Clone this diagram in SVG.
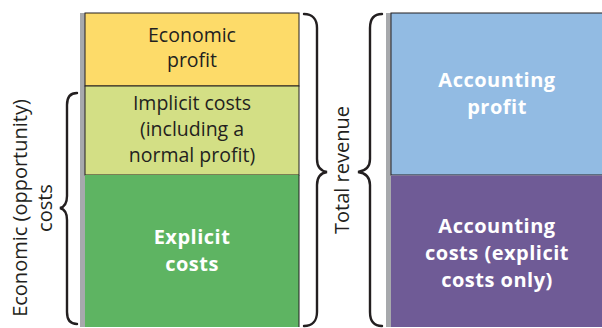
<svg xmlns="http://www.w3.org/2000/svg" width="602" height="328" viewBox="0 0 602 328">
<style>
.lbl{font-family:"Open Sans","Liberation Sans",sans-serif;font-size:19.5px;fill:#231f20;text-anchor:middle}
.blbl{font-family:"Open Sans","Liberation Sans",sans-serif;font-size:20px;font-weight:bold;fill:#ffffff;text-anchor:middle;letter-spacing:0.5px}
.side{font-family:"Open Sans","Liberation Sans",sans-serif;font-size:20px;fill:#231f20;text-anchor:middle}
.box{stroke:#231f20;stroke-width:1}
.bar{fill:#a7a9ac}
.brace{fill:none;stroke:#231f20;stroke-width:2.4;stroke-linecap:round}
</style>
<rect width="602" height="328" fill="#ffffff"/>
<rect class="bar" x="80" y="13" width="5" height="314"/>
<rect class="bar" x="386" y="13" width="5" height="314"/>
<g id="economic-profit">
<rect class="box" x="85" y="13" width="214" height="73" fill="#fddb69"/>
<text class="lbl" x="192" y="42">Economic</text>
<text class="lbl" x="192" y="67">profit</text>
</g>
<g id="implicit-costs">
<rect class="box" x="85" y="86" width="214" height="89" fill="#d3df85"/>
<text class="lbl" x="192" y="110">Implicit costs</text>
<text class="lbl" x="192" y="136">(including a</text>
<text class="lbl" x="192" y="162">normal profit)</text>
</g>
<g id="explicit-costs">
<rect x="85" y="175" width="214" height="152" fill="#5eb462"/>
<line class="box" x1="299" y1="175" x2="299" y2="327"/>
<text class="blbl" x="192" y="244">Explicit</text>
<text class="blbl" x="192" y="271">costs</text>
</g>
<g id="accounting-profit">
<rect class="box" x="391" y="13" width="220" height="162" fill="#92bbe3"/>
<text class="blbl" x="497" y="87">Accounting</text>
<text class="blbl" x="497" y="114">profit</text>
</g>
<g id="accounting-costs">
<rect x="391" y="175.5" width="220" height="151.5" fill="#6f5b96"/>
<text class="blbl" x="497" y="233">Accounting</text>
<text class="blbl" x="497" y="260">costs (explicit</text>
<text class="blbl" x="497" y="287">costs only)</text>
</g>
<g id="economic-costs-label">
<text class="side" transform="translate(27,208) rotate(-90)">Economic (opportunity)</text>
<text class="side" transform="translate(52,208) rotate(-90)">costs</text>
</g>
<g id="total-revenue-label">
<text class="side" transform="translate(349,170) rotate(-90)">Total revenue</text>
</g>
<g id="connectors">
<path class="brace" d="M77,93 C70,93 67,97 67,105 L67,196 C67,203 64,207 60,208 C64,209 67,213 67,220 L67,312 C67,320 70,324 77,324"/>
<path class="brace" d="M304,14 C312,14 317,19 317,28 L317,159 C317,167 321,171 327,172 C321,173 317,177 317,185 L317,312 C317,321 312,326 304,326"/>
<path class="brace" d="M382,14 C374,14 370,19 370,28 L370,159 C370,167 365,171 358,172 C365,173 370,177 370,185 L370,312 C370,321 374,326 382,326"/>
</g>
</svg>
